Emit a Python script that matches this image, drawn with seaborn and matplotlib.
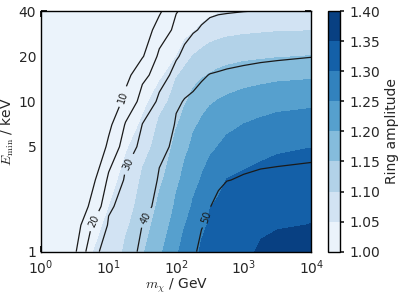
import numpy as np
import matplotlib
matplotlib.use("Agg")
import matplotlib.pyplot as plt
from matplotlib import ticker
import seaborn as sns

# grid: WIMP mass (GeV) x threshold energy (keV)
mass = [1, 3.16, 5.62, 10, 17.8, 31.6, 56.2, 100, 133, 178, 237, 316, 422, 562,
        1000, 1778, 3162, 10000]
e_min = [1, 1.5, 2, 3, 5, 7, 10, 15, 20, 30, 40]

# ring amplitude, one row per E_min value
amplitude = [
    [1.012, 1.027, 1.048, 1.072, 1.108, 1.145, 1.192, 1.244, 1.267, 1.289, 1.305, 1.313, 1.318, 1.324, 1.341, 1.356, 1.362, 1.366],
    [1.008, 1.016, 1.037, 1.059, 1.093, 1.131, 1.173, 1.224, 1.248, 1.269, 1.292, 1.305, 1.310, 1.315, 1.329, 1.341, 1.347, 1.351],
    [1.005, 1.008, 1.029, 1.049, 1.081, 1.122, 1.159, 1.209, 1.234, 1.255, 1.276, 1.299, 1.305, 1.309, 1.320, 1.329, 1.335, 1.338],
    [1.003, 1.004, 1.018, 1.037, 1.064, 1.108, 1.141, 1.189, 1.214, 1.236, 1.253, 1.272, 1.289, 1.301, 1.307, 1.313, 1.318, 1.321],
    [1.002, 1.002, 1.004, 1.020, 1.044, 1.081, 1.122, 1.164, 1.187, 1.211, 1.226, 1.239, 1.251, 1.263, 1.278, 1.286, 1.293, 1.299],
    [1.002, 1.002, 1.002, 1.009, 1.030, 1.057, 1.109, 1.146, 1.167, 1.192, 1.208, 1.219, 1.228, 1.237, 1.251, 1.259, 1.266, 1.272],
    [1.001, 1.001, 1.002, 1.002, 1.015, 1.036, 1.081, 1.124, 1.145, 1.166, 1.181, 1.195, 1.203, 1.209, 1.219, 1.226, 1.233, 1.239],
    [1.001, 1.001, 1.001, 1.001, 1.002, 1.014, 1.037, 1.096, 1.113, 1.131, 1.144, 1.153, 1.160, 1.166, 1.175, 1.181, 1.186, 1.191],
    [1.001, 1.001, 1.001, 1.001, 1.001, 1.003, 1.017, 1.049, 1.081, 1.102, 1.113, 1.122, 1.128, 1.133, 1.139, 1.143, 1.147, 1.152],
    [1.001, 1.001, 1.001, 1.001, 1.001, 1.002, 1.003, 1.006, 1.026, 1.044, 1.062, 1.074, 1.081, 1.085, 1.090, 1.093, 1.096, 1.098],
    [1.001, 1.001, 1.001, 1.001, 1.001, 1.001, 1.002, 1.002, 1.002, 1.003, 1.023, 1.036, 1.045, 1.049, 1.052, 1.056, 1.057, 1.059],
]

# ring radius (the labelled black contours)
ring_radius = [
    [5.0, 8.8, 28.0, 33.3, 37.0, 41.8, 43.6, 46.2, 47.5, 49.0, 51.6, 53.3, 54.4, 55.2, 56.0, 56.4, 56.6, 56.9],
    [4.5, 5.9, 19.9, 31.0, 34.9, 40.1, 42.6, 45.1, 46.2, 47.6, 49.6, 51.4, 52.5, 53.3, 53.9, 54.3, 54.6, 54.9],
    [4.0, 4.5, 11.9, 28.8, 33.5, 38.2, 41.9, 44.3, 45.3, 46.6, 48.4, 49.9, 51.1, 51.9, 52.5, 52.9, 53.1, 53.4],
    [3.5, 3.5, 7.6, 22.0, 31.4, 35.6, 40.8, 43.1, 44.1, 45.2, 46.7, 48.0, 49.1, 49.9, 50.4, 50.8, 51.0, 51.3],
    [3.0, 3.0, 3.9, 11.5, 26.3, 32.4, 38.2, 41.7, 42.5, 43.4, 44.5, 45.5, 46.3, 47.0, 47.5, 47.9, 48.1, 48.5],
    [2.8, 2.8, 3.0, 8.1, 20.9, 30.2, 35.0, 40.8, 41.5, 42.2, 43.1, 43.9, 44.5, 45.1, 45.5, 45.9, 46.1, 46.4],
    [2.5, 2.5, 2.8, 5.5, 11.9, 24.9, 31.6, 39.0, 40.4, 40.9, 41.5, 42.1, 42.6, 43.1, 43.5, 43.8, 44.0, 44.2],
    [2.3, 2.3, 2.5, 3.8, 7.6, 16.8, 26.4, 33.1, 36.2, 38.2, 39.4, 40.2, 40.5, 40.8, 41.1, 41.4, 41.5, 41.7],
    [2.1, 2.1, 2.3, 3.3, 5.5, 9.3, 22.2, 29.0, 32.2, 34.4, 35.8, 36.9, 37.6, 38.1, 38.8, 39.2, 39.5, 39.9],
    [2.0, 2.0, 2.1, 3.0, 4.0, 6.4, 13.2, 23.5, 26.7, 29.2, 30.8, 32.0, 32.6, 33.1, 33.6, 34.0, 34.2, 34.5],
    [2.0, 2.0, 2.0, 2.8, 3.5, 4.3, 8.8, 19.3, 22.75, 25.7, 27.5, 28.8, 29.3, 29.5, 29.9, 30.2, 30.4, 30.6],
]

amp_levels = [1.00, 1.05, 1.10, 1.15, 1.20, 1.25, 1.30, 1.35, 1.40]
radius_levels = [10, 20, 30, 40, 50]
# where the inline labels sit (mass, E_min)
label_spots = [(17.5, 10.6), (5.3, 1.63), (17.5, 3.9), (29.0, 1.76), (270.0, 1.71)]

y_ticks = [1, 5, 10, 20, 40]

#%%
sns.set_theme(style="ticks", rc={
    "xtick.direction": "in", "ytick.direction": "in",
    "xtick.top": True, "ytick.right": True,
    "xtick.major.size": 4, "ytick.major.size": 4,
    "xtick.minor.size": 2, "ytick.minor.size": 2,
    "axes.edgecolor": "black", "axes.linewidth": 1.0,
    "mathtext.fontset": "cm",
})
plt.rcParams["font.family"] = ["DejaVu Sans"]

blues = sns.color_palette("Blues", as_cmap=True)

fig = plt.figure(figsize=(3.99, 2.95), dpi=100)
ax = fig.add_axes([0.103, 0.147, 0.677, 0.815])
cax = fig.add_axes([0.821, 0.147, 0.031, 0.815])

cf = ax.contourf(mass, e_min, amplitude, levels=amp_levels, cmap=blues)
cs = ax.contour(mass, e_min, ring_radius, levels=radius_levels,
                colors="k", linewidths=0.9)

ax.set_xscale("log")
ax.set_yscale("log")
ax.set_xlim(1, 1e4)
ax.set_ylim(1, 40)

ax.clabel(cs, fmt="%d", fontsize=7, inline=True, manual=label_spots)

ax.set_yticks(y_ticks)
ax.set_yticklabels([str(t) for t in y_ticks])
ax.yaxis.set_minor_locator(ticker.LogLocator(subs=np.arange(2, 10)))
ax.yaxis.set_minor_formatter(ticker.NullFormatter())
ax.xaxis.set_minor_locator(ticker.LogLocator(subs=np.arange(2, 10), numticks=20))
ax.tick_params(which="both", direction="in", top=True, right=True,
               labelsize=10, color="black")
ax.tick_params(axis="x", which="major", pad=5)

ax.set_xlabel(r"$m_\chi$ / GeV", fontsize=10, labelpad=0)
ax.set_ylabel(r"$E_\mathrm{min}$ / keV", fontsize=10, labelpad=2)

cbar = fig.colorbar(cf, cax=cax, ticks=amp_levels, format="%.2f")
cbar.set_label("Ring amplitude", fontsize=10)
cbar.ax.tick_params(labelsize=10, length=3, direction="out")
cbar.outline.set_linewidth(1.0)

fig.savefig("out.png", dpi=100)
